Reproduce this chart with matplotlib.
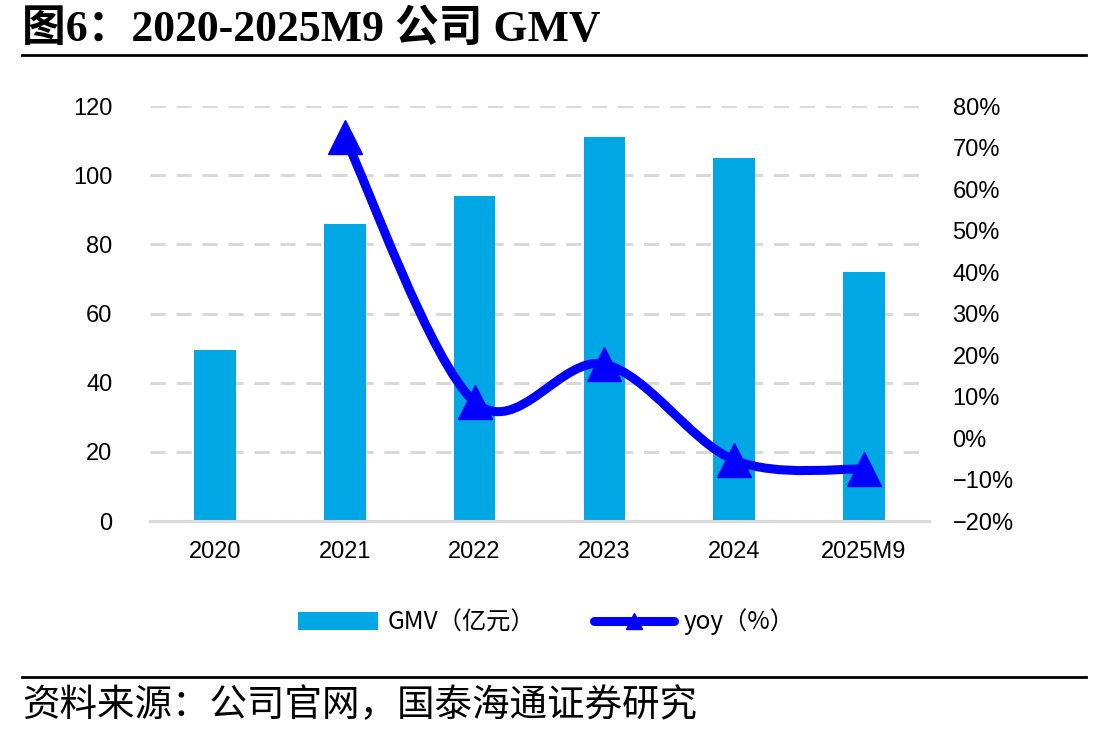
import matplotlib
matplotlib.use("Agg")
import matplotlib.pyplot as plt
from matplotlib.path import Path
from matplotlib.patches import PathPatch, Patch
from matplotlib.lines import Line2D
import numpy as np

# Data
years = ["2020", "2021", "2022", "2023", "2024", "2025M9"]
gmv = [49.5, 86, 94, 111, 105, 72]          # 亿元
yoy_years = ["2021", "2022", "2023", "2024", "2025M9"]
yoy = [72.5, 8.7, 17.8, -5.3, -7.5]          # %

bar_color = "#00A7E5"
line_color = "#0000FF"
grid_color = "#D9D9D9"
cjk = ["Noto Sans CJK SC", "DejaVu Sans"]
num_font = ["Liberation Sans", "Noto Sans CJK SC"]

fig = plt.figure(figsize=(11.08, 7.37), dpi=100)
ax = fig.add_axes([0.1354, 0.293, 0.703, 0.563])
ax2 = ax.twinx()

x = np.arange(len(years))
ax.bar(x, gmv, width=0.32, color=bar_color, zorder=2)
ax.set_xlim(-0.5, len(years) - 0.5)
ax.set_ylim(0, 120)
ax.set_yticks(range(0, 121, 20))
ax.set_xticks(x)
ax.set_xticklabels(years, fontfamily=num_font, fontsize=17)
for lab in ax.get_yticklabels():
    lab.set_fontfamily(num_font)
    lab.set_fontsize(17)
ax.tick_params(axis="both", length=0)
ax.tick_params(axis="x", pad=14)
ax.tick_params(axis="y", pad=27)
ax.yaxis.grid(True, color=grid_color, linestyle=(0, (5, 3.5)), linewidth=2.2, zorder=0)
ax.set_axisbelow(True)
for s in ["top", "right", "left"]:
    ax.spines[s].set_visible(False)
ax.spines["bottom"].set_color(grid_color)
ax.spines["bottom"].set_linewidth(2.2)

# yoy line, smoothed (Catmull-Rom style bezier)
ax2.set_ylim(-20, 80)
ax2.set_yticks(range(-20, 81, 10))
ax2.set_yticklabels([f"{v}%".replace("-", "\u2212") for v in range(-20, 81, 10)],
                    fontfamily=num_font, fontsize=17)
ax2.tick_params(axis="y", length=0, pad=17)
for s in ax2.spines.values():
    s.set_visible(False)

xi = np.array([years.index(y) for y in yoy_years], dtype=float)
pts = np.column_stack([xi, yoy])
ext = np.vstack([pts[0], pts, pts[-1]])
verts = [tuple(pts[0])]
codes = [Path.MOVETO]
for i in range(len(pts) - 1):
    p0, p1, p2, p3 = ext[i], ext[i + 1], ext[i + 2], ext[i + 3]
    c1 = p1 + (p2 - p0) / 6
    c2 = p2 - (p3 - p1) / 6
    verts += [tuple(c1), tuple(c2), tuple(p2)]
    codes += [Path.CURVE4] * 3
ax2.add_patch(PathPatch(Path(verts, codes), facecolor="none", edgecolor=line_color,
                        linewidth=6.5, capstyle="round", joinstyle="round", zorder=3))
ax2.plot(xi, yoy, linestyle="none", marker="^", markersize=24, color=line_color, zorder=4)

# Legend
handles = [Patch(facecolor=bar_color, edgecolor="none"),
           Line2D([], [], color=line_color, linewidth=6.5, marker="^", markersize=12,
                  solid_capstyle="round")]
leg = fig.legend(handles, ["GMV（亿元）", "yoy（%）"], loc="center",
                 bbox_to_anchor=(0.493, 0.156), ncol=2, frameon=False,
                 prop={"family": cjk, "size": 17.5}, handlelength=3.3,
                 handleheight=0.75, columnspacing=2.4, handletextpad=0.4)

# Title and source
fig.text(0.02, 0.96, "图6：2020-2025M9 公司 GMV", fontsize=31.5, fontweight="bold",
         family=["Liberation Serif", "Noto Sans CJK SC"], va="center", ha="left")
fig.add_artist(Line2D([0.02, 0.98], [0.925, 0.925], color="black", linewidth=2))
fig.add_artist(Line2D([0.02, 0.98], [0.081, 0.081], color="black", linewidth=2))
fig.text(0.02, 0.043, "资料来源：公司官网，国泰海通证券研究", fontsize=27,
         family=cjk, va="center", ha="left")

fig.savefig("out.png", dpi=100)
